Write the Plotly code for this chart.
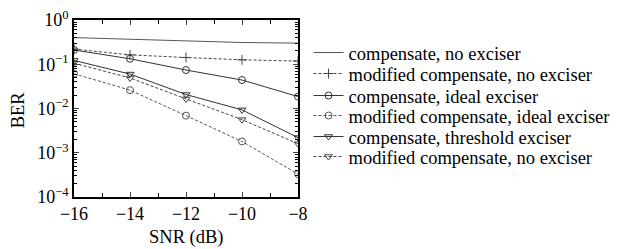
import plotly.graph_objects as go

snr = [-16, -14, -12, -10, -8]
comp_no = [0.40, 0.37, 0.34, 0.31, 0.30]
mod_no = [0.22, 0.163, 0.142, 0.126, 0.118]
comp_ideal = [0.21, 0.133, 0.074, 0.044, 0.0186]
mod_ideal = [0.061, 0.026, 0.0069, 0.0018, 0.00033]
comp_thr = [0.122, 0.060, 0.0207, 0.0093, 0.0022]
mod_thr = [0.106, 0.049, 0.0165, 0.0056, 0.0016]

names = ["compensate, no exciser", "modified compensate, no exciser",
         "compensate, ideal exciser", "modified compensate, ideal exciser",
         "compensate, threshold exciser", "modified compensate, no exciser"]
ytickvals = [1, 0.1, 0.01, 0.001, 0.0001]
yticktext = ["10<sup>0</sup>", "10<sup>−1</sup>", "10<sup>−2</sup>", "10<sup>−3</sup>", "10<sup>−4</sup>"]
xtickvals = [-16, -14, -12, -10, -8]
xticktext = ["−16", "−14", "−12", "−10", "−8"]

series = [comp_no, mod_no, comp_ideal, mod_ideal, comp_thr, mod_thr]
styles = [
    dict(dash="solid", color="#555", symbol=None),
    dict(dash="3px,2px", color="#444", symbol="cross-thin"),
    dict(dash="solid", color="#333", symbol="circle-open"),
    dict(dash="3px,2px", color="#555", symbol="circle-open"),
    dict(dash="solid", color="#333", symbol="triangle-down-open"),
    dict(dash="3px,2px", color="#444", symbol="triangle-down-open"),
]

font = "Liberation Serif"
# plot area spans pixel rows 20..197
H_TOP, H_BOT = 20, 197
leg_rows_px = [53, 74, 96, 116, 137, 157]

fig = go.Figure()
layout_legends = {}
for i, (name, ys, st) in enumerate(zip(names, series, styles)):
    mode = "lines" if st["symbol"] is None else "lines+markers"
    marker = dict(symbol=st["symbol"] or "circle", size=7, color=st["color"],
                  line=dict(width=1, color=st["color"]))
    lname = "legend" if i == 0 else f"legend{i+1}"
    fig.add_trace(go.Scatter(x=snr, y=ys, name=name, mode=mode, legend=lname,
                             line=dict(color=st["color"], width=1, dash=st["dash"]),
                             marker=marker))
    layout_legends[lname] = dict(
        x=1.047, y=(H_BOT - leg_rows_px[i]) / (H_BOT - H_TOP),
        xanchor="left", yanchor="middle",
        font=dict(size=18.5, family=font, color="black"),
        itemwidth=30, bgcolor="rgba(0,0,0,0)", borderwidth=0)

fig.update_layout(
    width=632, height=249,
    margin=dict(l=74, r=334, t=20, b=52, autoexpand=False),
    paper_bgcolor="white", plot_bgcolor="white",
    font=dict(family=font, size=18, color="black"),
    showlegend=True,
    **layout_legends,
)
fig.add_annotation(text="BER", xref="paper", yref="paper", x=-0.25, y=0.49,
                   textangle=-90, showarrow=False, font=dict(size=18.5, family=font),
                   xanchor="center", yanchor="middle")
fig.add_annotation(text="SNR (dB)", xref="paper", yref="paper", x=0.5, y=-0.228,
                   showarrow=False, font=dict(size=18.5, family=font),
                   xanchor="center", yanchor="middle")
fig.update_xaxes(range=[-16, -8], tickvals=xtickvals, ticktext=xticktext,
                 ticks="inside", ticklen=5, showline=True, linecolor="black",
                 linewidth=1.5, mirror="allticks", showgrid=False, zeroline=False,
                 automargin=False,
                 minor=dict(dtick=1, ticks="inside", ticklen=4, tickcolor="black"))
fig.update_yaxes(type="log", range=[-4, 0], tickvals=ytickvals, ticktext=yticktext,
                 ticks="inside", ticklen=5, showline=True, linecolor="black",
                 linewidth=1.5, mirror="allticks", showgrid=False, zeroline=False,
                 automargin=False,
                 minor=dict(ticks="inside", ticklen=3, tickcolor="black", dtick="D1"))
fig.write_html("out.html", config={"displayModeBar": False},
               post_script="document.body.style.margin='0';document.body.style.overflow='hidden';")
